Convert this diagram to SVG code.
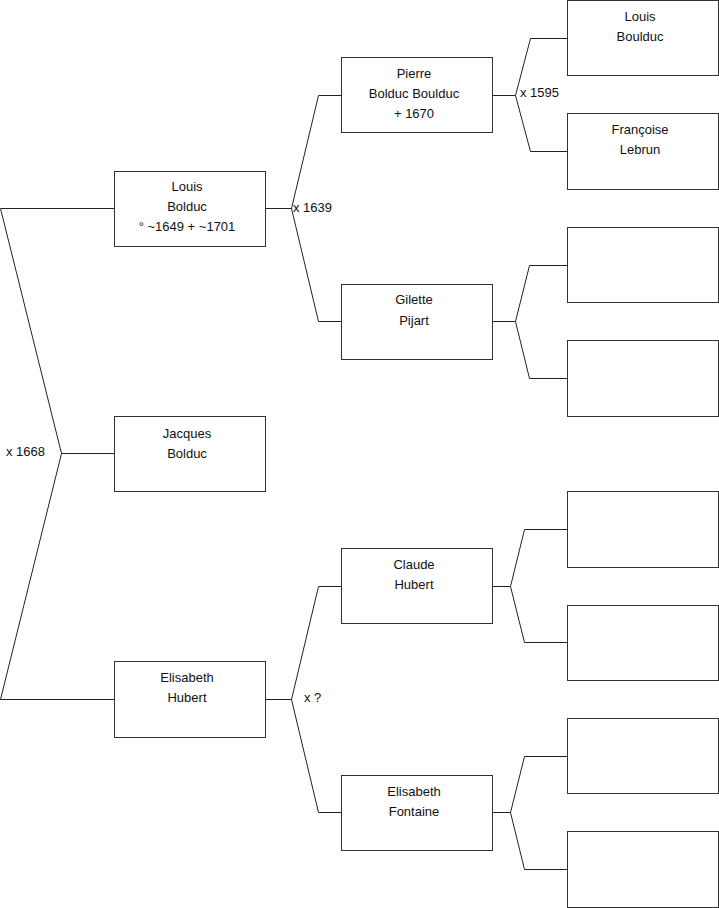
<svg xmlns="http://www.w3.org/2000/svg" width="719" height="908" viewBox="0 0 719 908">
<style>
.box{fill:#fff;stroke:#333;stroke-width:1}
.ln{fill:none;stroke:#222;stroke-width:1}
text{font-family:"Liberation Sans",Arial,sans-serif;font-size:13px;fill:#111}
.c{text-anchor:middle}
</style>
<rect width="719" height="908" fill="#fff"/>
<g id="connectors">
<path class="ln" d="M0.5,208.5 H114.5 M0.5,208.5 L61.5,453.5 L0.5,699.5 H114.5 M61.5,453.5 H114.5"/>
<path class="ln" d="M265.5,208.5 H291.5 L318.5,95.5 H341.5 M291.5,208.5 L318.5,321.5 H341.5"/>
<path class="ln" d="M265.5,699.5 H291.5 L318.5,586.5 H341.5 M291.5,699.5 L318.5,812.5 H341.5"/>
<path class="ln" d="M492.5,95.5 H515.5 L530.5,38.5 H567.5 M515.5,95.5 L530.5,151.5 H567.5"/>
<path class="ln" d="M492.5,321.5 H515.5 L529.5,265.5 H567.5 M515.5,321.5 L529.5,378.5 H567.5"/>
<path class="ln" d="M492.5,586.5 H510.5 L524.5,529.5 H567.5 M510.5,586.5 L524.5,642.5 H567.5"/>
<path class="ln" d="M492.5,812.5 H510.5 L524.5,756.5 H567.5 M510.5,812.5 L524.5,869.5 H567.5"/>
<text x="6" y="456">x 1668</text>
<text x="293" y="212">x 1639</text>
<text x="520" y="97">x 1595</text>
<text x="304" y="702">x ?</text>
</g>
<g id="louis-bolduc"><rect class="box" x="114.5" y="171.5" width="151" height="75"/>
<text class="c" x="187" y="191">Louis</text><text class="c" x="187" y="211">Bolduc</text><text class="c" x="187" y="231">° ~1649 + ~1701</text></g>
<g id="jacques-bolduc"><rect class="box" x="114.5" y="416.5" width="151" height="75"/>
<text class="c" x="187" y="438">Jacques</text><text class="c" x="187" y="458">Bolduc</text></g>
<g id="elisabeth-hubert"><rect class="box" x="114.5" y="661.5" width="151" height="76"/>
<text class="c" x="187" y="682">Elisabeth</text><text class="c" x="187" y="702">Hubert</text></g>
<g id="pierre-bolduc"><rect class="box" x="341.5" y="57.5" width="151" height="75"/>
<text class="c" x="414" y="78">Pierre</text><text class="c" x="414" y="98">Bolduc Boulduc</text><text class="c" x="414" y="118">+ 1670</text></g>
<g id="gilette-pijart"><rect class="box" x="341.5" y="284.5" width="151" height="75"/>
<text class="c" x="414" y="304">Gilette</text><text class="c" x="414" y="325">Pijart</text></g>
<g id="claude-hubert"><rect class="box" x="341.5" y="548.5" width="151" height="75"/>
<text class="c" x="414" y="569">Claude</text><text class="c" x="414" y="589">Hubert</text></g>
<g id="elisabeth-fontaine"><rect class="box" x="341.5" y="775.5" width="151" height="75"/>
<text class="c" x="414" y="796">Elisabeth</text><text class="c" x="414" y="816">Fontaine</text></g>
<g id="louis-boulduc"><rect class="box" x="567.5" y="0.5" width="151" height="75"/>
<text class="c" x="640" y="21">Louis</text><text class="c" x="640" y="41">Boulduc</text></g>
<g id="francoise-lebrun"><rect class="box" x="567.5" y="113.5" width="151" height="76"/>
<text class="c" x="640" y="134">Françoise</text><text class="c" x="640" y="154">Lebrun</text></g>
<g id="empty-1"><rect class="box" x="567.5" y="227.5" width="151" height="75"/></g>
<g id="empty-2"><rect class="box" x="567.5" y="340.5" width="151" height="76"/></g>
<g id="empty-3"><rect class="box" x="567.5" y="491.5" width="151" height="76"/></g>
<g id="empty-4"><rect class="box" x="567.5" y="605.5" width="151" height="75"/></g>
<g id="empty-5"><rect class="box" x="567.5" y="718.5" width="151" height="75"/></g>
<g id="empty-6"><rect class="box" x="567.5" y="831.5" width="151" height="76"/></g>
</svg>
